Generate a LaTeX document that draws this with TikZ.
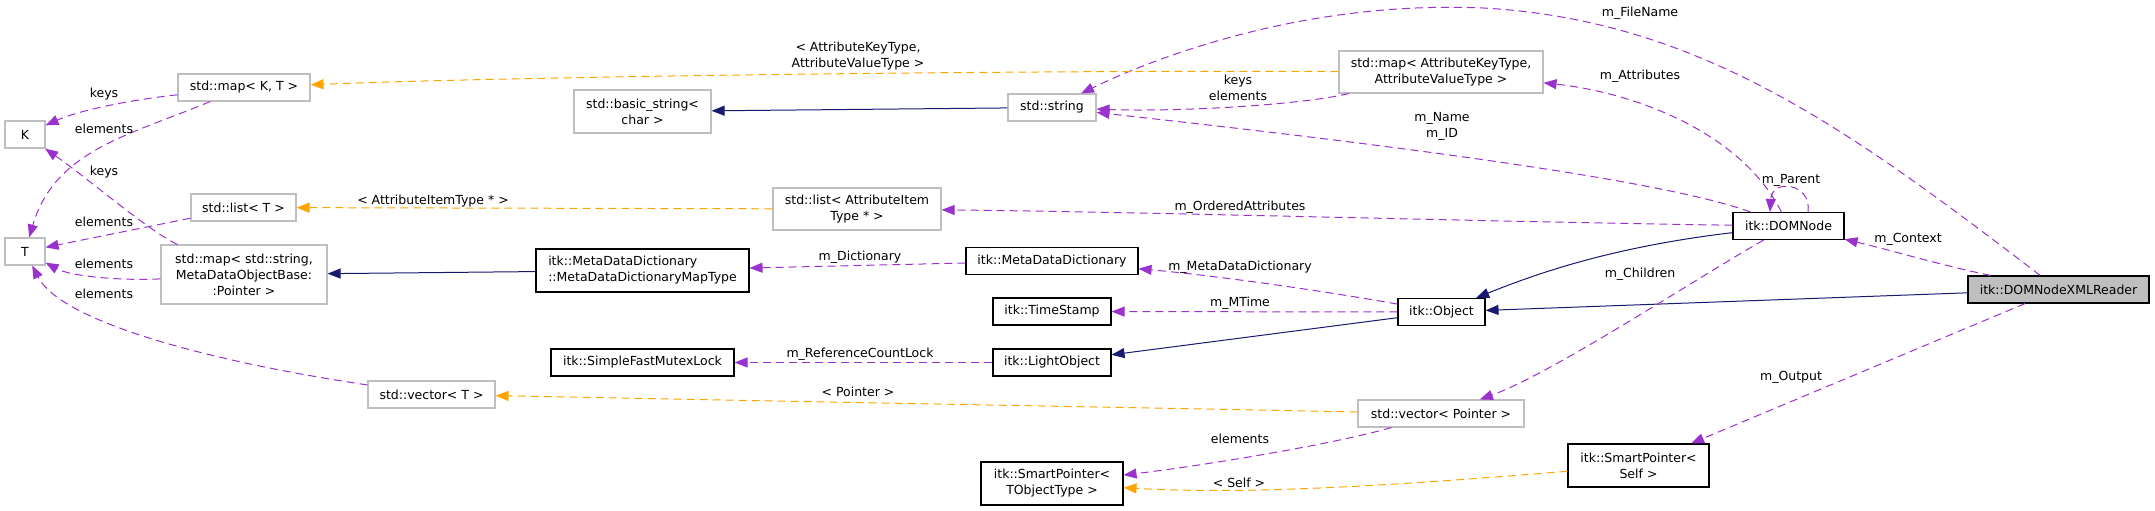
\documentclass[tikz,border=0pt]{standalone}
\usepackage{fontspec}
\setmainfont{DejaVu Sans}
\usetikzlibrary{arrows.meta,calc}
\definecolor{dpurple}{HTML}{9A32CD}
\definecolor{dorange}{HTML}{FFA500}
\definecolor{dnavy}{HTML}{191970}
\definecolor{dgrey}{HTML}{BFBFBF}
\tikzset{
  cls/.style={draw=black, line width=1.1pt, fill=white, rectangle, inner sep=0pt, minimum height=27pt, align=center},
  ext/.style={cls, draw=dgrey},
  lbl/.style={inner sep=0pt, align=center},
  dep/.style={draw=dpurple, line width=1pt, dash pattern=on 8pt off 5pt, -{Triangle[length=13pt,width=10pt]}},
  tmpl/.style={draw=dorange, line width=1pt, dash pattern=on 8pt off 5pt, -{Triangle[length=13pt,width=10pt]}},
  inh/.style={draw=dnavy, line width=1pt, -{Triangle[length=13pt,width=10pt]}}
}
\begin{document}
\begin{tikzpicture}[x=1pt,y=-1pt,font=\fontsize{12.5}{16}\selectfont]
\useasboundingbox (0,0) rectangle (2155,511);
% nodes
\node[ext, minimum width=40] (K) at (25,134.5) {K};
\node[ext, minimum width=40] (T) at (25,251.5) {T};
\node[ext, minimum width=132] (mapKT) at (244,87.5) {std::map< K, T >};
\node[ext, minimum width=105] (listT) at (243.5,207.5) {std::list< T >};
\node[ext, minimum width=166, minimum height=59] (mapStr) at (244,274.5) {std::map< std::string,\\ MetaDataObjectBase:\\ :Pointer >};
\node[ext, minimum width=127] (vecT) at (431.5,394.5) {std::vector< T >};
\node[ext, minimum width=137, minimum height=43] (bstr) at (642.5,111.5) {std::basic\_string<\\ char >};
\node[cls, minimum width=213, minimum height=43, align=left] (mddmt) at (642.5,270.5) {itk::MetaDataDictionary\\ ::MetaDataDictionaryMapType};
\node[cls, minimum width=183] (sfml) at (642.5,362.5) {itk::SimpleFastMutexLock};
\node[ext, minimum width=168, minimum height=42] (listAttr) at (857,209) {std::list< AttributeItem\\ Type * >};
\node[ext, minimum width=88] (str) at (1052,107.5) {std::string};
\node[cls, minimum width=172] (mdd) at (1052,261) {itk::MetaDataDictionary};
\node[cls, minimum width=118] (ts) at (1052,311.5) {itk::TimeStamp};
\node[cls, minimum width=118] (lo) at (1052,362.5) {itk::LightObject};
\node[cls, minimum width=142, minimum height=43] (spT) at (1052,483.5) {itk::SmartPointer<\\ TObjectType >};
\node[ext, minimum width=204, minimum height=42] (mapAttr) at (1441,72) {std::map< AttributeKeyType,\\ AttributeValueType >};
\node[cls, minimum width=87] (obj) at (1441.5,312) {itk::Object};
\node[ext, minimum width=166] (vecPtr) at (1441,413.5) {std::vector< Pointer >};
\node[cls, minimum width=141, minimum height=43] (spS) at (1638.5,465.5) {itk::SmartPointer<\\ Self >};
\node[cls, minimum width=111] (dom) at (1788.5,226) {itk::DOMNode};
\node[cls, fill=dgrey, minimum width=181] (rdr) at (2058.5,289.5) {itk::DOMNodeXMLReader};
% edges
\draw[dep] (rdr) .. controls (1940,265) and (1890,250) .. (dom);
\draw[inh] (rdr) -- (obj);
\draw[dep] (rdr) .. controls (1850,130) and (1700,20) .. (1483,8) .. controls (1300,0) and (1150,60) .. (str);
\draw[dep] (rdr) -- (spS);
\draw[inh] (dom) .. controls (1620,246) and (1545,270) .. (obj);
\draw[dep] ($(dom.north)+(19.5,0)$) .. controls (1812,183) and (1772,178) .. ($(dom.north)+(-18.5,0)$);
\draw[dep] (dom) .. controls (1740,130) and (1630,92) .. (mapAttr);
\draw[dep] (dom) .. controls (1650,175) and (1300,135) .. (str);
\draw[dep] (dom) .. controls (1500,222) and (1150,212) .. (listAttr);
\draw[dep] (dom) .. controls (1700,276) and (1553,373) .. (vecPtr);
\draw[dep] (mapAttr) .. controls (1300,105) and (1180,112) .. (str);
\draw[tmpl] (mapAttr) .. controls (1000,70) and (500,77) .. (mapKT);
\draw[inh] (str) -- (bstr);
\draw[dep] (obj) .. controls (1330,292) and (1220,276) .. (mdd);
\draw[dep] (obj) -- (ts);
\draw[inh] (obj) -- (lo);
\draw[tmpl] (vecPtr) -- (vecT);
\draw[dep] (vecPtr) .. controls (1330,445) and (1200,466) .. (spT);
\draw[tmpl] (spS) .. controls (1400,485) and (1250,495) .. (spT);
\draw[dep] (mdd) -- (mddmt);
\draw[dep] (lo) -- (sfml);
\draw[tmpl] (listAttr) -- (listT);
\draw[inh] (mddmt) -- (mapStr);
\draw[dep] (mapKT) .. controls (130,100) and (80,110) .. (K);
\draw[dep] (mapKT) .. controls (130,135) and (55,150) .. (T);
\draw[dep] (mapStr) .. controls (150,232) and (90,180) .. (K);
\draw[dep] (listT) -- (T);
\draw[dep] (mapStr) .. controls (120,281) and (70,276) .. (T);
\draw[dep] (vecT) .. controls (200,360) and (60,320) .. (T);
% labels
\node[lbl] (l1) at (1908,239) {m\_Context};
\node[lbl] (l2) at (1640,13) {m\_FileName};
\node[lbl] (l3) at (1791,377) {m\_Output};
\node[lbl] (l4) at (1791,180) {m\_Parent};
\node[lbl] (l5) at (1640,76) {m\_Attributes};
\node[lbl] (l6) at (1442,126.5) {m\_Name\\ m\_ID};
\node[lbl] (l7) at (1240,207) {m\_OrderedAttributes};
\node[lbl] (l8) at (1640,274) {m\_Children};
\node[lbl] (l9) at (1238,88) {keys\\ elements};
\node[lbl] (l10) at (858,56) {< AttributeKeyType,\\ AttributeValueType >};
\node[lbl] (l11) at (1240,267) {m\_MetaDataDictionary};
\node[lbl] (l12) at (1240,303) {m\_MTime};
\node[lbl] (l13) at (858,392) {< Pointer >};
\node[lbl] (l14) at (1240,439) {elements};
\node[lbl] (l15) at (1239,483) {< Self >};
\node[lbl] (l16) at (860,257) {m\_Dictionary};
\node[lbl] (l17) at (860,354) {m\_ReferenceCountLock};
\node[lbl] (l18) at (433,201) {< AttributeItemType * >};
\node[lbl] (l19) at (104,94) {keys};
\node[lbl] (l20) at (104,129) {elements};
\node[lbl] (l21) at (104,172) {keys};
\node[lbl] (l22) at (104,222) {elements};
\node[lbl] (l23) at (104,264) {elements};
\node[lbl] (l24) at (104,294) {elements};
\end{tikzpicture}
\end{document}
